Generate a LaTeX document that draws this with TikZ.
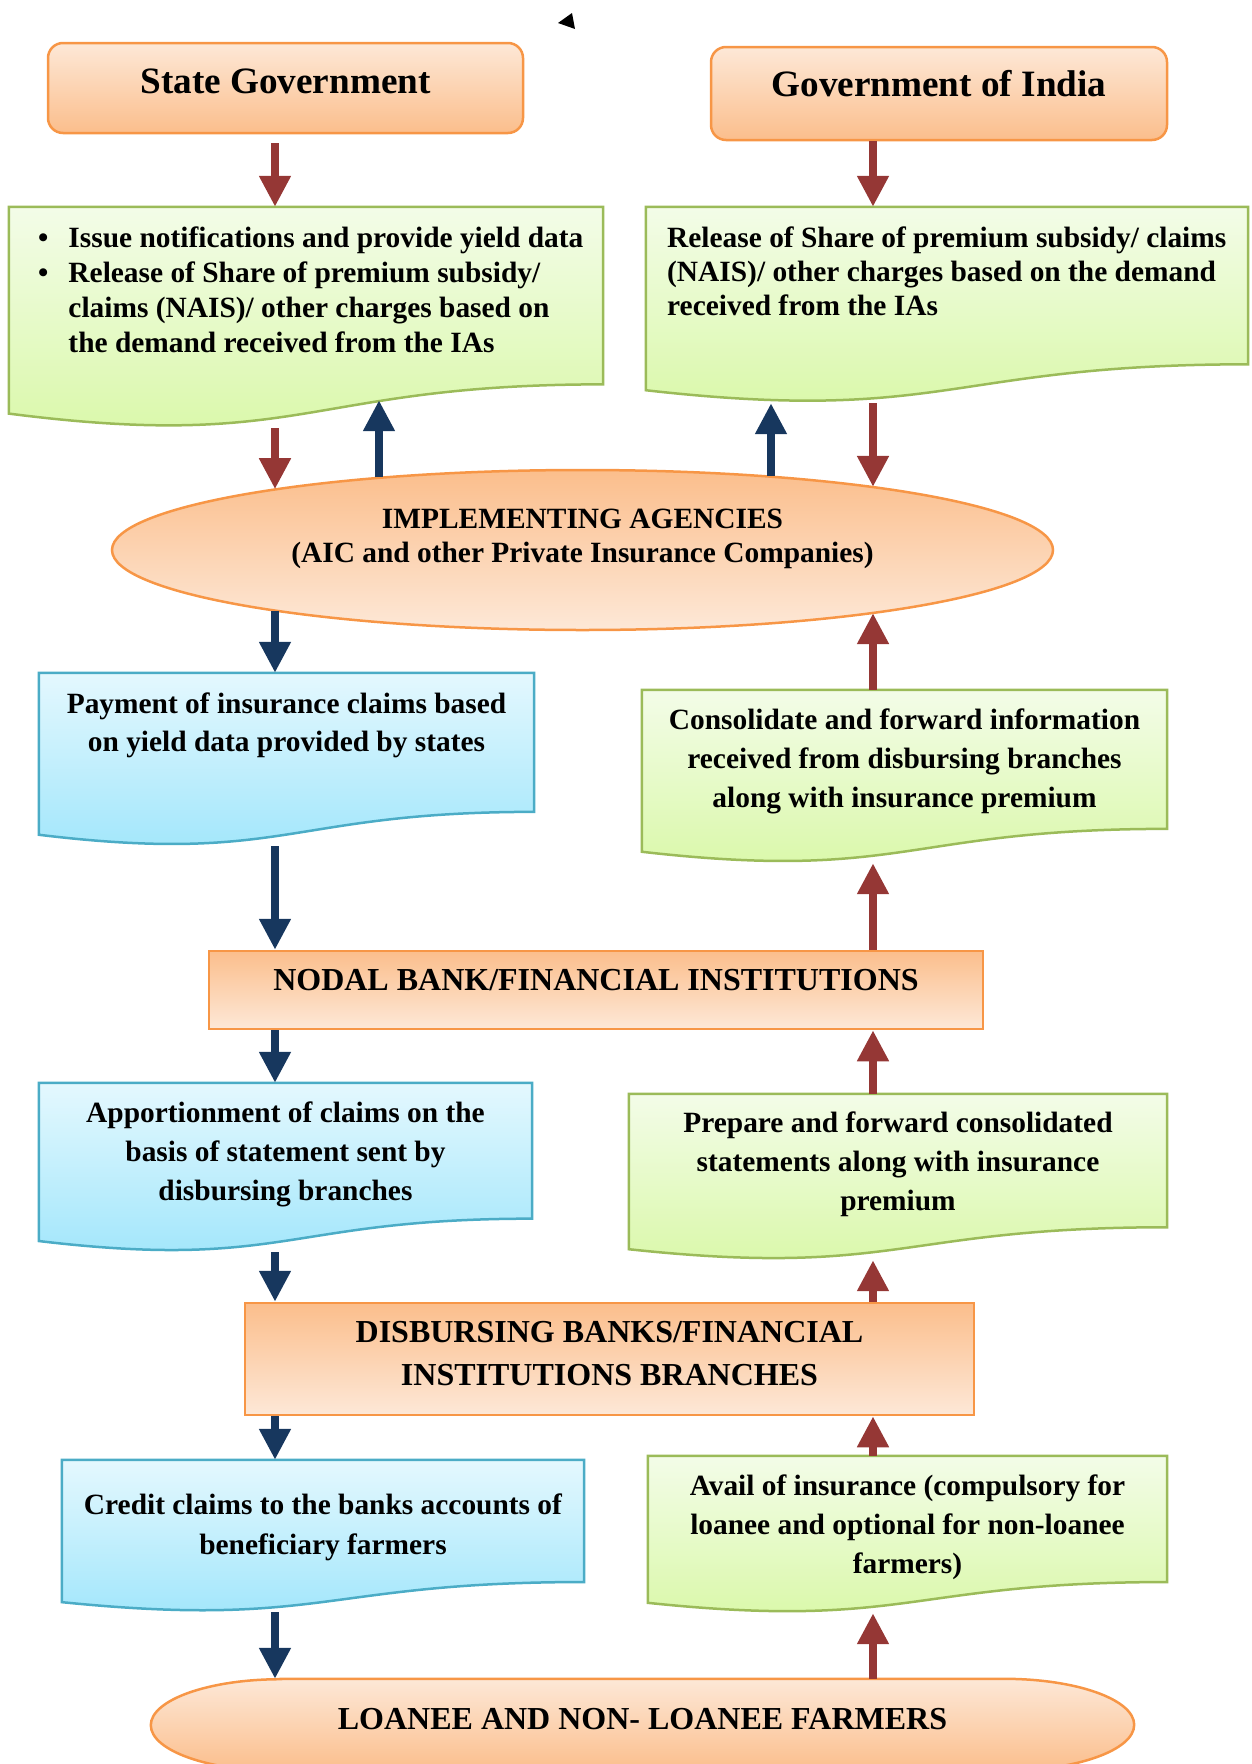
\documentclass[tikz,border=0pt]{standalone}
\usepackage{fontspec}
\setmainfont{Liberation Serif}
\usetikzlibrary{arrows.meta,calc,shapes.geometric}

\definecolor{arrred}{HTML}{953735}
\definecolor{arrblue}{HTML}{17375E}
\definecolor{orline}{HTML}{F79646}
\definecolor{orlight}{HTML}{FDE8D7}
\definecolor{ordark}{HTML}{FBBE8C}
\definecolor{grline}{HTML}{9BBB59}
\definecolor{grlight}{HTML}{F3FCE8}
\definecolor{grdark}{HTML}{D8F8A5}
\definecolor{blline}{HTML}{4BACC6}
\definecolor{bllight}{HTML}{E4F8FE}
\definecolor{bldark}{HTML}{9DE5FB}

% document shape (wavy bottom) drawn round an empty node
\newcommand{\docshape}[2]{%
\shade[#2] (#1.north west) -- (#1.north east)
  -- ($(#1.north east)!0.802!(#1.south east)$)
  .. controls ($(#1.north)!0.802!(#1.south)$) and ($(#1.north)!1.107!(#1.south)$)
  .. ($(#1.north west)!0.934!(#1.south west)$) -- cycle;}

\begin{document}
\begin{tikzpicture}[x=1pt,y=-1pt,
  box/.style n args={2}{rectangle,inner sep=0pt,minimum width=#1,minimum height=#2},
  ordown/.style={draw=orline,line width=2.5pt,top color=orlight,bottom color=ordark},
  orup/.style={draw=orline,line width=2.5pt,top color=ordark,bottom color=orlight},
  grdoc/.style={draw=grline,line width=2.5pt,top color=grlight,bottom color=grdark},
  bldoc/.style={draw=blline,line width=2.5pt,top color=bllight,bottom color=bldark},
  txt/.style={font=\fontsize{29.4}{39}\selectfont\bfseries,align=center,inner sep=0pt},
  tighttxt/.style={font=\fontsize{29.4}{34}\selectfont\bfseries,align=left,inner sep=0pt},
  head/.style={font=\fontsize{32}{43}\selectfont\bfseries,align=center,inner sep=0pt},
  title/.style={font=\fontsize{37.2}{44}\selectfont\bfseries,inner sep=0pt},
  redarr/.style={draw=arrred,line width=8pt,-{Triangle[length=31pt,width=30pt]}},
  bluearr/.style={draw=arrblue,line width=8pt,-{Triangle[length=31pt,width=30pt]}}]
\useasboundingbox (0,0) rectangle (1251,1764);
\clip (0,0) rectangle (1251,1764);

% arrow columns
\coordinate (lcol) at (275,0);
\coordinate (rcol) at (873,0);
\coordinate (lup) at (379,0);
\coordinate (rup) at (771,0);

\fill (558,23) -- (572,13) -- (575,29) -- cycle;

% governments
\node[box={475pt}{90pt},rounded corners=15pt,ordown] (sg) at (285.5,88) {};
\node[title] (sg-t) at (285.5,81) {State Government};
\node[box={456pt}{93pt},rounded corners=15pt,ordown] (goi) at (939,93.5) {};
\node[title] (goi-t) at (939,84) {Government of India};

\node[box={594pt}{221pt}] (sgnote) at (306,317.5) {};
\docshape{sgnote}{grdoc}
\node[tighttxt,anchor=west,font=\fontsize{29.4}{35}\selectfont\bfseries] (sgnote-t) at (38,292.5)
  {\begin{tabular}{@{}l@{\hspace{20pt}}l@{}}
   \textbullet & Issue notifications and provide yield data\\
   \textbullet & Release of Share of premium subsidy/\\
   & claims (NAIS)/ other charges based on\\
   & the demand received from the IAs
   \end{tabular}};

\node[box={602pt}{196pt}] (goinote) at (947,305) {};
\docshape{goinote}{grdoc}
\node[tighttxt,anchor=west] (goinote-t) at (667,271)
  {Release of Share of premium subsidy/ claims\\
   (NAIS)/ other charges based on the demand\\
   received from the IAs};

% implementing agencies
\node[ellipse,orup,inner sep=0pt,minimum width=941pt,minimum height=160pt] (ia) at (582.5,550) {};
\node[txt,font=\fontsize{29.4}{34}\selectfont\bfseries] (ia-t) at (582.5,539)
  {IMPLEMENTING AGENCIES\\(AIC and other Private Insurance Companies)};

\node[box={495pt}{173pt}] (pay) at (286.5,759.5) {};
\docshape{pay}{bldoc}
\node[txt,font=\fontsize{29.4}{38}\selectfont\bfseries] (pay-t) at (286.5,725)
  {Payment of insurance claims based\\on yield data provided by states};

\node[box={525pt}{173pt}] (cons) at (904.5,776.5) {};
\docshape{cons}{grdoc}
\node[txt] (cons-t) at (904.5,761.5)
  {Consolidate and forward information\\received from disbursing branches\\along with insurance premium};

% nodal bank
\node[box={774pt}{78pt},orup] (nodal) at (596,990) {};
\node[head] (nodal-t) at (596,980) {NODAL BANK/FINANCIAL INSTITUTIONS};

\node[box={493pt}{169pt}] (appor) at (285.5,1167.5) {};
\docshape{appor}{bldoc}
\node[txt] (appor-t) at (285.5,1154.5)
  {Apportionment of claims on the\\basis of statement sent by\\disbursing branches};

\node[box={538pt}{166pt}] (prep) at (898,1177) {};
\docshape{prep}{grdoc}
\node[txt] (prep-t) at (898,1164)
  {Prepare and forward consolidated\\statements along with insurance\\premium};

% disbursing branches
\node[box={729pt}{112pt},orup] (disb) at (609.5,1359) {};
\node[head] (disb-t) at (609.5,1353.5) {DISBURSING BANKS/FINANCIAL\\INSTITUTIONS BRANCHES};

\node[box={522pt}{152pt}] (credit) at (323,1536) {};
\docshape{credit}{bldoc}
\node[txt,font=\fontsize{29.4}{40}\selectfont\bfseries] (credit-t) at (323,1527)
  {Credit claims to the banks accounts of\\beneficiary farmers};

\node[box={519pt}{157pt}] (avail) at (907.5,1534.5) {};
\docshape{avail}{grdoc}
\node[txt] (avail-t) at (907.5,1527.5)
  {Avail of insurance (compulsory for\\loanee and optional for non-loanee\\farmers)};

% farmers
\node[box={983pt}{92pt}] (loanee) at (642.5,1725) {};
\shade[ordown] ([xshift=130pt]loanee.north west) -- ([xshift=-130pt]loanee.north east)
  arc[start angle=90,end angle=-90,x radius=130pt,y radius=46pt]
  -- ([xshift=130pt]loanee.south west)
  arc[start angle=270,end angle=90,x radius=130pt,y radius=46pt] -- cycle;
\node[head] (loanee-t) at (642.5,1719) {LOANEE AND NON- LOANEE FARMERS};

% arrows
\draw[redarr,shorten <=9pt] (sg.south -| lcol) -- (sgnote.north -| lcol);
\draw[redarr] (goi.south -| rcol) -- (goinote.north -| rcol);
\draw[redarr] (sgnote.south -| lcol) -- (lcol |- ia.169);
\draw[redarr] (goinote.south -| rcol) -- (rcol |- ia.12);
\draw[bluearr] (lup |- ia.161) -- ([yshift=28pt]sgnote.south -| lup);
\draw[bluearr] (rup |- ia.21) -- (goinote.south -| rup);
\draw[bluearr] (lcol |- ia.191) -- (pay.north -| lcol);
\draw[redarr] (cons.north -| rcol) -- (rcol |- ia.-12);
\foreach \a/\b in {pay/nodal,nodal/appor,appor/disb,disb/credit,credit/loanee} {
  \draw[bluearr] (\a.south -| lcol) -- (\b.north -| lcol);
}
\foreach \a/\b in {loanee/avail,avail/disb,disb/prep,prep/nodal,nodal/cons} {
  \draw[redarr] (\a.north -| rcol) -- (\b.south -| rcol);
}
\end{tikzpicture}
\end{document}
